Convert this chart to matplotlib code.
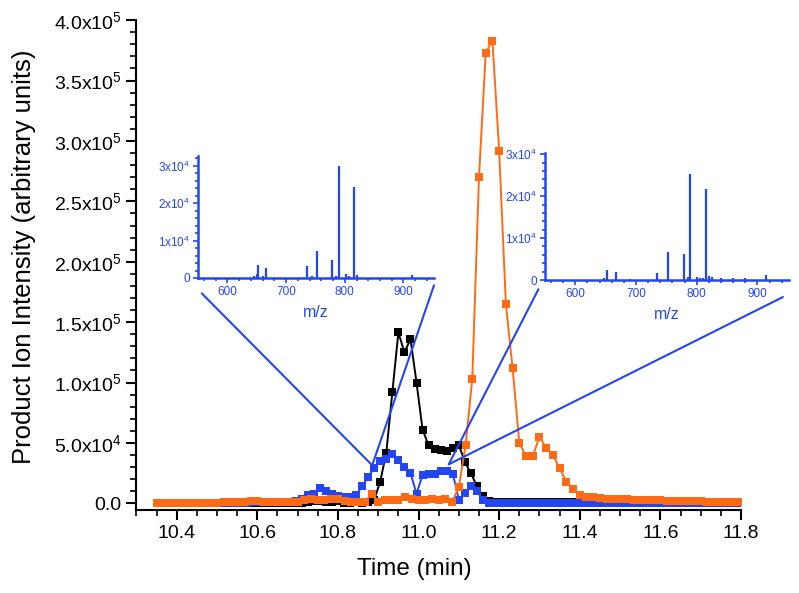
import numpy as np
import matplotlib
matplotlib.use('Agg')
import matplotlib.pyplot as plt
from matplotlib.patches import ConnectionPatch
from matplotlib.ticker import MultipleLocator, AutoMinorLocator, FixedLocator

plt.rcParams['font.family'] = ['Liberation Sans', 'DejaVu Sans']
plt.rcParams['mathtext.fontset'] = 'custom'
plt.rcParams['mathtext.rm'] = 'Liberation Sans'
plt.rcParams['mathtext.default'] = 'regular'

# chromatograms, intensities in thousands of counts
# orange trace sampled every 1 s, black and blue every 0.9 s, all from 10.35 min
orange_start, orange_step = 10.35, 1 / 60
bb_start, bb_step = 10.35, 0.015

orange_k = [0.3, 0.3, 0.3, 0.3, 0.3, 0.3,
            0.5, 0.5, 0.5, 0.5,
            0.8, 0.8, 0.8,
            1.5, 1.8, 1.8, 1.5,
            1.2, 1.2, 1.0, 1.0,
            1.5, 2.5, 4.0, 3.0,
            2.5, 3.5, 3.5,
            2.0, 1.5, 1.5, 1.5,
            7.5, 1.5, 3.0, 2.5, 3.0, 5.0, 4.0, 2.5, 2.5, 3.8, 2.5, 3.5, 1.0,
            13.5, 48, 103, 270, 373, 383, 292, 165, 112, 50, 39, 39, 55, 46, 40,
            29, 18, 11.5, 7, 5.5, 5, 4.5,
            4.0, 3.8, 3.5, 3.3, 3.0, 3.0, 2.8, 2.5, 2.5, 2.3, 2.2, 2.0, 2.0, 1.8,
            1.8, 1.5, 1.5, 1.5, 1.3, 1.2, 1.0]

blue_k = ([0.3] * 8 + [0.5] * 8 + [0.8] * 4 + [1.0, 1.2, 1.5]
          + [2, 4, 7, 7.5, 13, 10, 7.5, 6, 5.5, 5.5, 7, 14, 22, 29, 35, 37, 41,
             35.5, 30, 25, 8, 23.5, 24, 24.5, 27, 27, 24.5, 3, 8.5, 14, 10, 3, 0.5]
          + [0.4] * 41)

black_k = ([0.2] * 24
           + [0.5, 1.5, 2, 2, 1.5, 1, 2, 0.5, 0.5, 1]
           + [0.5, 1.5, 3, 18, 42, 92, 141.5, 125, 136, 100, 61, 48, 45, 44, 43.5,
              45.5, 48.5, 34, 25, 14, 6, 2, 0.8]
           + [1.0] * 14 + [0.5] * 26)

# spectra shown in the insets (m/z, intensity in thousands)
spec1_mz = [645, 650, 652.5, 660, 666.5, 735, 745, 752.5, 779, 785, 790.5, 802, 808, 816, 820, 915]
spec1_k = [0.6, 1.0, 3.4, 0.5, 2.8, 3.1, 0.5, 7.2, 4.7, 0.6, 29.8, 1.0, 0.6, 24.2, 0.8, 0.7]
spec2_mz = [648, 652, 666.5, 690, 734.5, 752.5, 779, 785, 789.5, 800, 805, 810, 814.7, 820, 825,
            840, 860, 880, 913.5]
spec2_k = [0.5, 2.4, 1.9, 0.3, 1.7, 6.7, 6.3, 0.6, 25.4, 0.6, 0.5, 0.5, 21.8, 0.9, 0.6,
           0.4, 0.4, 0.4, 1.1]

# chromatogram points the insets refer to (min, counts)
spec1_at = (10.885, 31500)
spec2_at = (11.075, 32300)

y_ticks = [0, 5e4, 1e5, 1.5e5, 2e5, 2.5e5, 3e5, 3.5e5, 4e5]
y_labels = ['0.0', '5.0x10$^4$', '1.0x10$^5$', '1.5x10$^5$', '2.0x10$^5$',
            '2.5x10$^5$', '3.0x10$^5$', '3.5x10$^5$', '4.0x10$^5$']
inset_ticks = [0, 1e4, 2e4, 3e4]
inset_labels = ['0', '1x10$^4$', '2x10$^4$', '3x10$^4$']

ORANGE = '#ff6a14'
BLUE = '#2446f2'

fig = plt.figure(figsize=(7.99, 5.93), dpi=100)
ax = fig.add_axes([0.1707, 0.140, 0.7567, 0.826])

t_orange = orange_start + orange_step * np.arange(len(orange_k))
t_bb = bb_start + bb_step * np.arange(len(blue_k))

style = dict(marker='s', markersize=5.2, markeredgewidth=0, linewidth=1.4)
ax.plot(t_bb, np.array(black_k) * 1e3, color='black', zorder=2, **style)
ax.plot(t_bb, np.array(blue_k) * 1e3, color=BLUE, zorder=3, **style)
ax.plot(t_orange, np.array(orange_k) * 1e3, color=ORANGE, zorder=4, **style)

ax.set_xlim(10.3, 11.8)
ax.set_ylim(-5500, 4e5)
ax.xaxis.set_major_locator(FixedLocator([10.4, 10.6, 10.8, 11.0, 11.2, 11.4, 11.6, 11.8]))
ax.xaxis.set_minor_locator(MultipleLocator(0.05))
ax.yaxis.set_major_locator(FixedLocator(y_ticks))
ax.set_yticklabels(y_labels)
ax.yaxis.set_minor_locator(MultipleLocator(1e4))
for s in ['top', 'right']:
    ax.spines[s].set_visible(False)
for s in ['left', 'bottom']:
    ax.spines[s].set_linewidth(1.5)
ax.tick_params(which='major', length=7, width=1.5, labelsize=14)
ax.tick_params(which='minor', length=4, width=1.2)
ax.set_xlabel('Time (min)', fontsize=17.5)
ax.xaxis.set_label_coords(0.459, -0.098)
ax.set_ylabel('Product Ion Intensity (arbitrary units)', fontsize=18.5)
ax.yaxis.set_label_coords(-0.166, 0.516)


def inset(rect, mz, k, top):
    ins = fig.add_axes(rect)
    ins.vlines(mz, 0, np.array(k) * 1e3, colors=BLUE, linewidth=1.6)
    ins.set_xlim(550, 952)
    ins.set_ylim(0, top)
    ins.patch.set_alpha(0)
    for s in ['top', 'right']:
        ins.spines[s].set_visible(False)
    for s in ['left', 'bottom']:
        ins.spines[s].set_color(BLUE)
        ins.spines[s].set_linewidth(1.8)
    ins.xaxis.set_major_locator(FixedLocator([600, 700, 800, 900]))
    ins.xaxis.set_minor_locator(AutoMinorLocator(5))
    ins.yaxis.set_major_locator(FixedLocator(inset_ticks))
    ins.set_yticklabels(inset_labels)
    ins.yaxis.set_minor_locator(AutoMinorLocator(5))
    ins.tick_params(which='both', colors=BLUE, labelcolor=BLUE, labelsize=8.5, width=1.2)
    ins.tick_params(which='major', length=3.5, pad=2)
    ins.tick_params(which='minor', length=2)
    ins.set_xlabel('m/z', color=BLUE, fontsize=11.5, labelpad=5)
    return ins


ins1 = inset([0.2478, 0.5312, 0.2954, 0.2057], spec1_mz, spec1_k, 32600)
ins2 = inset([0.6821, 0.5278, 0.3054, 0.2142], spec2_mz, spec2_k, 30300)

for ins, corners, target in [(ins1, [(0.016, -0.126), (1.0, -0.06)], spec1_at),
                             (ins2, [(-0.027, -0.073), (0.975, -0.134)], spec2_at)]:
    for c in corners:
        con = ConnectionPatch(xyA=c, coordsA=ins.transAxes, xyB=target, coordsB=ax.transData,
                              color=BLUE, linewidth=1.5, zorder=5)
        fig.add_artist(con)

fig.savefig('out.png', dpi=100)
